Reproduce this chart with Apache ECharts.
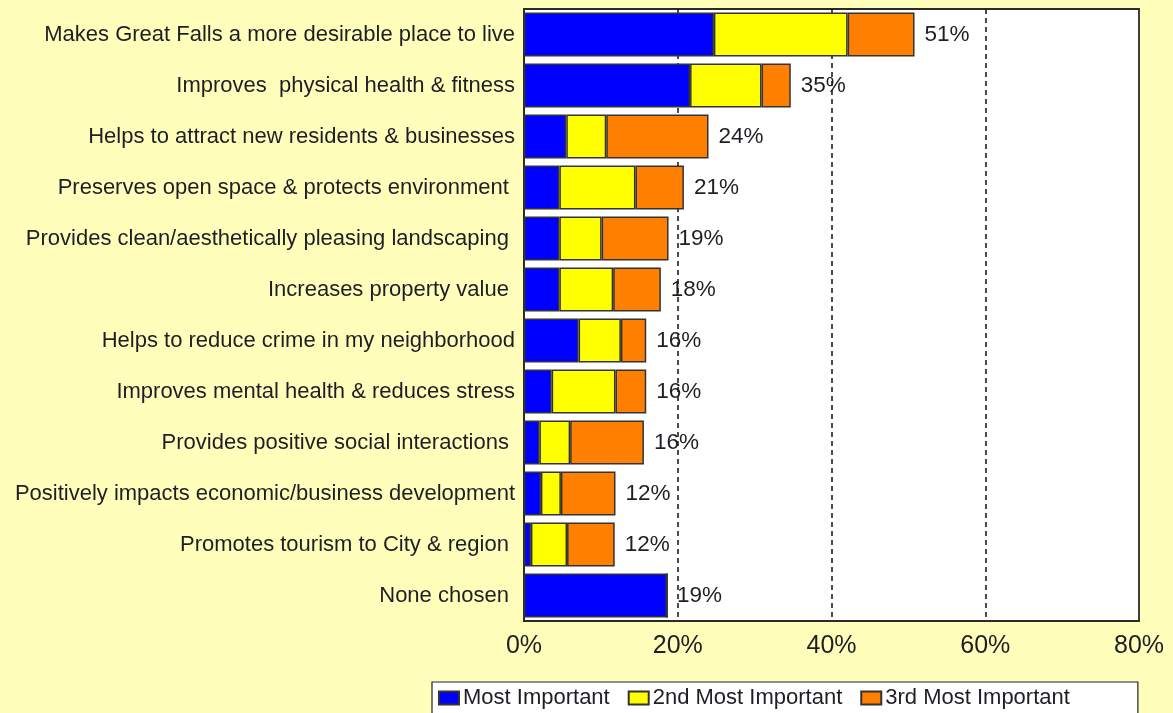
<!DOCTYPE html>
<html>
<head>
<meta charset="utf-8">
<title>Benefits of Parks & Trails</title>
<script src="https://cdn.jsdelivr.net/npm/echarts@6/dist/echarts.min.js"></script>
<style>
  html, body { margin: 0; padding: 0; background: #FFFFBB; }
  #chart { width: 1173px; height: 713px; }
</style>
</head>
<body>
<div id="chart"></div>
<script>
// Survey benefits, ranked top to bottom
const categories = [
  'Makes Great Falls a more desirable place to live',
  'Improves  physical health & fitness',
  'Helps to attract new residents & businesses',
  'Preserves open space & protects environment ',
  'Provides clean/aesthetically pleasing landscaping ',
  'Increases property value ',
  'Helps to reduce crime in my neighborhood',
  'Improves mental health & reduces stress',
  'Provides positive social interactions ',
  'Positively impacts economic/business development',
  'Promotes tourism to City & region ',
  'None chosen '
];

// Share of respondents (%) by importance rank
const mostImportant   = [24.7, 21.6, 5.5, 4.6, 4.6, 4.6, 7.1, 3.6, 2.0, 2.2, 0.9, 18.6];
const secondImportant = [17.4, 9.3, 5.2, 9.9, 5.5, 7.0, 5.5, 8.3, 4.0, 2.6, 4.7, 0];
const thirdImportant  = [8.7, 3.8, 13.3, 6.3, 8.7, 6.2, 3.3, 4.0, 9.6, 7.1, 6.2, 0];

const seriesNames = ['Most Important', '2nd Most Important', '3rd Most Important'];
const seriesColors = ['#0000FF', '#FFFF00', '#FF8000'];
const axisTicks = [0, 20, 40, 60, 80];

const FONT = "'Liberation Sans', Arial, sans-serif";
const TEXT = '#1e1e24';

const stacks = [mostImportant, secondImportant, thirdImportant];
const totals = categories.map((_, i) => stacks.reduce((s, arr) => s + arr[i], 0));

// Total label sits on the outermost non-empty segment of each bar
function lastSegment(i) {
  for (let k = stacks.length - 1; k >= 0; k--) if (stacks[k][i] > 0) return k;
  return 0;
}

const series = stacks.map((vals, k) => ({
  name: seriesNames[k],
  type: 'bar',
  stack: 'total',
  barCategoryGap: '14%',
  itemStyle: { color: seriesColors[k], borderColor: '#333', borderWidth: 1.5 },
  emphasis: { disabled: true },
  data: vals.map((v, i) => ({
    value: v,
    label: {
      show: lastSegment(i) === k,
      position: 'right',
      distance: 10,
      formatter: () => Math.round(totals[i]) + '%',
      fontFamily: FONT,
      fontSize: 22.5,
      color: TEXT
    }
  }))
}));

const chart = echarts.init(document.getElementById('chart'), null, { renderer: 'canvas' });
chart.setOption({
  backgroundColor: '#FFFFBB',
  animation: false,
  textStyle: { fontFamily: FONT },
  grid: {
    left: 524, top: 9, right: 34, bottom: 92,
    show: true, backgroundColor: '#FFFFFF', borderColor: '#2a2a2a', borderWidth: 1.8
  },
  legend: {
    data: seriesNames,
    left: 432, top: 682,
    orient: 'horizontal',
    backgroundColor: '#FFFFFF',
    borderColor: '#222', borderWidth: 1.2, borderRadius: 0,
    padding: [5, 68, 20, 6],
    itemWidth: 20, itemHeight: 13, itemGap: 18,
    icon: 'rect',
    textStyle: { fontFamily: FONT, fontSize: 22, color: TEXT, padding: [0, 0, 0, -1] }
  },
  xAxis: {
    type: 'value',
    min: axisTicks[0], max: axisTicks[axisTicks.length - 1], interval: 20,
    axisLine: { show: true, lineStyle: { color: '#2a2a2a', width: 1.8 } },
    axisTick: { show: false },
    axisLabel: {
      formatter: '{value}%', fontFamily: FONT, fontSize: 25, color: TEXT, margin: 13
    },
    splitLine: {
      show: true, showMinLine: false, showMaxLine: false,
      lineStyle: { color: '#111', type: [5, 4], width: 1.5 }
    }
  },
  yAxis: {
    type: 'category',
    data: categories,
    inverse: true,
    axisLine: { show: true, lineStyle: { color: '#2a2a2a', width: 1.8 } },
    axisTick: { show: false },
    axisLabel: { fontFamily: FONT, fontSize: 22, color: TEXT, margin: 9 }
  },
  series: series
});
</script>
</body>
</html>
